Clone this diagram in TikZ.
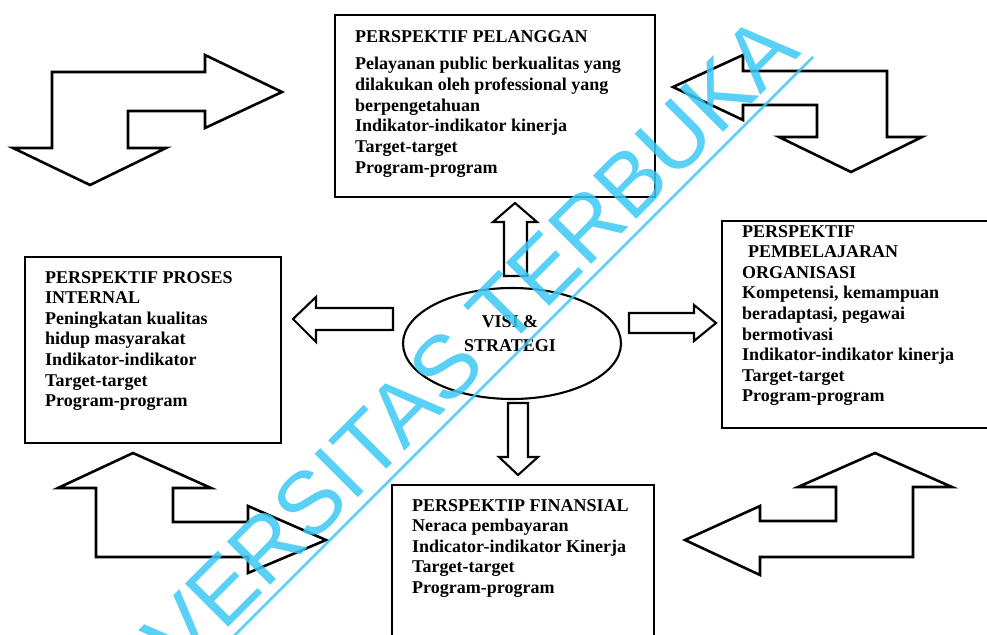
\documentclass[tikz,border=0pt]{standalone}
\usepackage{fontspec}
\setmainfont{Liberation Serif}
\newfontfamily\wmfont{Liberation Sans}
\usetikzlibrary{shapes.geometric}
\definecolor{wmblue}{RGB}{60,200,245}
\newcommand{\txtblock}[1]{\begin{tabular}[t]{@{}l@{}}#1\end{tabular}}
\tikzset{
  boxline/.style={line width=2.2pt, line join=miter, line cap=rect},
  bigarrow/.style={draw, fill=white, line width=2.6pt, line join=miter},
  smallarrow/.style={draw, fill=white, line width=2.1pt, line join=miter},
  txt/.style={anchor=base west, inner sep=0pt, font=\bfseries\fontsize{18}{20.6}\selectfont},
  wm/.style={wmblue, opacity=0.85}
}
\begin{document}
\begin{tikzpicture}[x=1pt,y=-1pt]
\useasboundingbox (0,0) rectangle (987,634);
\clip (0,0) rectangle (987,634);
\fill[white] (0,0) rectangle (987,634);

% boxes
\draw[boxline] (335,15) rectangle (655,197);
\node (pel) [txt] at (355,42) {\txtblock{PERSPEKTIF PELANGGAN\\[7.4pt]
Pelayanan public berkualitas yang\\
dilakukan oleh professional yang\\
berpengetahuan\\
Indikator-indikator kinerja\\
Target-target\\
Program-program}};

\draw[boxline] (25,257) rectangle (281,443);
\node (pro) [txt] at (45,283) {\txtblock{PERSPEKTIF PROSES\\
INTERNAL\\
Peningkatan kualitas\\
hidup masyarakat\\
Indikator-indikator\\
Target-target\\
Program-program}};

\draw[boxline] (1000,221) -- (722,221) -- (722,428) -- (1000,428);
\node (org) [txt] at (742,237) {\txtblock{PERSPEKTIF\\
\hspace{6pt}PEMBELAJARAN\\
ORGANISASI\\
Kompetensi, kemampuan\\
beradaptasi, pegawai\\
bermotivasi\\
Indikator-indikator kinerja\\
Target-target\\
Program-program}};

\draw[boxline] (392,650) -- (392,485) -- (654,485) -- (654,650);
\node (fin) [txt] at (412,511) {\txtblock{PERSPEKTIP FINANSIAL\\
Neraca pembayaran\\
Indicator-indikator Kinerja\\
Target-target\\
Program-program}};

% centre ellipse
\node (vs) [draw, ellipse, line width=2.1pt, minimum width=218pt, minimum height=111pt, inner sep=0pt] at (512,343.5) {};
\node (vstxt) [anchor=base, inner sep=0pt, font=\bfseries\fontsize{18}{24}\selectfont] at (510,327)
  {\begin{tabular}[t]{@{}c@{}}VISI \&\\STRATEGI\end{tabular}};

% small block arrows
\draw[smallarrow] (515,203) -- (537,222) -- (527,222) -- (527,276) -- (504,276) -- (504,222) -- (493,222) -- cycle;
\draw[smallarrow] (518,475) -- (538,457) -- (528,457) -- (528,403) -- (508,403) -- (508,457) -- (499,457) -- cycle;
\draw[smallarrow] (293,319) -- (316,297) -- (316,308) -- (393,308) -- (393,330) -- (316,330) -- (316,342) -- cycle;
\draw[smallarrow] (716,323) -- (694,305) -- (694,313) -- (629,313) -- (629,333) -- (694,333) -- (694,341) -- cycle;

% big bent arrows
\draw[bigarrow] (90,185) -- (13,148) -- (52,148) -- (52,72) -- (205,72) -- (205,55) -- (282,92) -- (205,128) -- (205,111) -- (128,111) -- (128,148) -- (166,148) -- cycle;
\draw[bigarrow] (673,87) -- (743,55) -- (743,71) -- (887,71) -- (887,137) -- (922,137) -- (851,172) -- (779,137) -- (817,137) -- (817,105) -- (743,105) -- (743,120) -- cycle;
\draw[bigarrow] (133,453) -- (211,488) -- (173,488) -- (173,522) -- (248,522) -- (248,506) -- (326,540) -- (248,573) -- (248,557) -- (96,557) -- (96,488) -- (58,488) -- cycle;
\draw[bigarrow] (875,453) -- (952,487) -- (913,487) -- (913,557) -- (760,557) -- (760,575) -- (685,540) -- (760,506) -- (760,521) -- (836,521) -- (836,487) -- (798,487) -- cycle;

% watermark
\node (wmtext) [wm, text=wmblue, rotate=45, anchor=base east, inner sep=0pt, font=\wmfont\fontsize{89}{89}\selectfont] at (803,53) {VERSITAS TERBUKA};
\coordinate (wmA) at (813,57);
\coordinate (wmB) at (100,770);
\draw[wm, line width=2.6pt] (wmA) -- (wmB);
\end{tikzpicture}
\end{document}
